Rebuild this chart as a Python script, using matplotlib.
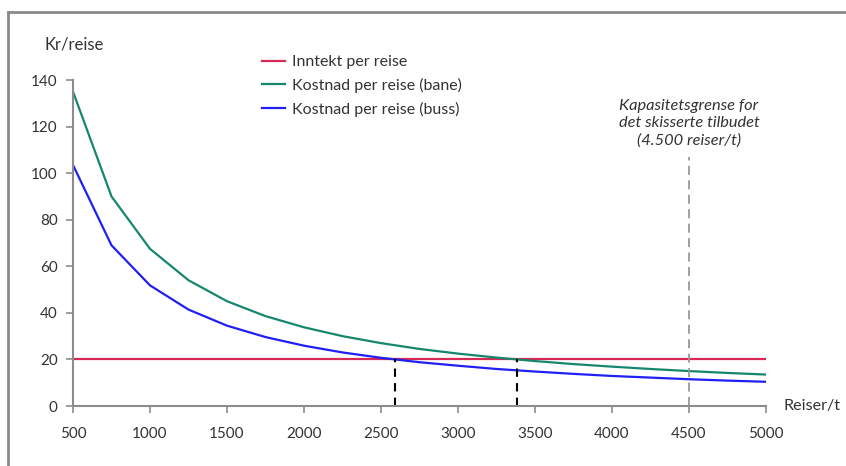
import matplotlib
matplotlib.use("Agg")
import matplotlib.pyplot as plt
from matplotlib.lines import Line2D

plt.rcParams['font.family'] = ['Lato', 'DejaVu Sans']

# Trips per hour
reiser = [500, 750, 1000, 1250, 1500, 1750, 2000, 2250, 2500, 2750,
          3000, 3250, 3500, 3750, 4000, 4250, 4500, 4750, 5000]
# Revenue per trip (flat)
inntekt = [20] * len(reiser)
# Cost per trip, rail
kost_bane = [135, 90, 67.5, 54, 45, 38.6, 33.8, 30, 27, 24.5,
             22.5, 20.8, 19.3, 18, 16.9, 15.9, 15, 14.2, 13.5]
# Cost per trip, bus
kost_buss = [103.5, 69, 51.8, 41.4, 34.5, 29.6, 25.9, 23, 20.7, 18.8,
             17.3, 15.9, 14.8, 13.8, 12.9, 12.2, 11.5, 10.9, 10.4]

# Break-even points and capacity limit
break_even = [2590, 3380]
kapasitet = 4500
xticks = [500, 1000, 1500, 2000, 2500, 3000, 3500, 4000, 4500, 5000]
yticks = [0, 20, 40, 60, 80, 100, 120, 140]

RED = '#D42A55'
GREEN = '#16876F'
BLUE = '#2020F5'
AXIS = '#8C8C8C'
TXT = '#333333'

fig = plt.figure(figsize=(8.46, 4.66), dpi=100)
ax = fig.add_axes([73 / 846, 60 / 466, 693 / 846, 326 / 466])

ax.plot(reiser, inntekt, color=RED, lw=1.6, label='Inntekt per reise')
ax.plot(reiser, kost_bane, color=GREEN, lw=1.6, label='Kostnad per reise (bane)')
ax.plot(reiser, kost_buss, color=BLUE, lw=1.6, label='Kostnad per reise (buss)')

for xb in break_even:
    ax.plot([xb, xb], [0, 20], color='black', lw=1.5, ls=(0, (4, 3)))

ax.plot([kapasitet, kapasitet], [0, 107], color='#999999', lw=1.3, ls=(0, (5, 3)))
ax.text(kapasitet, 121.5, 'Kapasitetsgrense for\ndet skisserte tilbudet\n(4.500 reiser/t)',
        ha='center', va='center', style='italic', fontsize=11.8, color=TXT,
        linespacing=1.3)

ax.set_xlim(500, 5000)
ax.set_ylim(0, 140)
ax.set_xticks(xticks)
ax.set_yticks(yticks)
ax.set_xticklabels([str(v) for v in xticks])
ax.set_yticklabels([str(v) for v in yticks])

for s in ['top', 'right']:
    ax.spines[s].set_visible(False)
for s in ['left', 'bottom']:
    ax.spines[s].set_color(AXIS)
    ax.spines[s].set_linewidth(1.5)
ax.tick_params(axis='both', colors=AXIS, labelcolor=TXT, labelsize=11,
               length=5, width=1.2, direction='out')
ax.tick_params(axis='x', pad=10)
ax.tick_params(axis='y', pad=6)

fig.text(74 / 846, 1 - 45 / 466, 'Kr/reise', ha='center', va='center',
         fontsize=12, color=TXT)
fig.text(783 / 846, 1 - 406 / 466, 'Reiser/t', ha='left', va='center',
         fontsize=11.6, color=TXT)

fig.legend(loc='upper left', bbox_to_anchor=(262 / 846, 1 - 55 / 466),
           frameon=False, fontsize=11.5, handlelength=1.45, handletextpad=0.45,
           labelspacing=0.55, labelcolor=TXT, borderaxespad=0, borderpad=0)

# Outer frame
fig.add_artist(Line2D([8 / 846, 1], [1 - 12 / 466, 1 - 12 / 466],
                      transform=fig.transFigure, color='#8A8A8A', lw=2))
fig.add_artist(Line2D([8 / 846, 8 / 846], [0, 1 - 12 / 466],
                      transform=fig.transFigure, color='#8A8A8A', lw=2))

fig.savefig('out.png', dpi=100, facecolor='white')
